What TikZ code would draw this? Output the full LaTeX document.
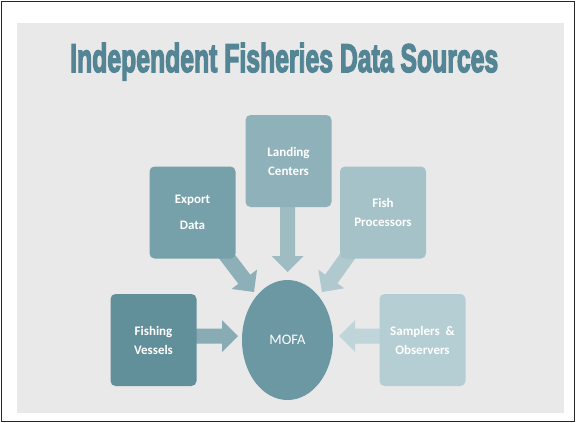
\documentclass[tikz,border=0pt]{standalone}
\usepackage{fontspec}
\setmainfont{Carlito}
\newfontfamily\titlefont[BoldFeatures={FakeBold=4}]{Liberation Sans}
\usetikzlibrary{calc}
\definecolor{panel}{HTML}{E9E9E9}
\definecolor{titlec}{HTML}{548594}
\definecolor{landc}{HTML}{8FB1B9}
\definecolor{expc}{HTML}{76A1AA}
\definecolor{procc}{HTML}{A5C2C8}
\definecolor{vesc}{HTML}{618F9A}
\definecolor{sampc}{HTML}{B5CED3}
\definecolor{mofac}{HTML}{6B98A3}
\definecolor{landa}{HTML}{A0BCC3}
\definecolor{expa}{HTML}{8DAFB7}
\definecolor{proca}{HTML}{B0C9CE}
\definecolor{vesa}{HTML}{88ABB4}
\definecolor{sampa}{HTML}{C0D5D9}
\newcommand\blockarrow[3]{%
  \coordinate (hb) at ($(#2)!16pt!(#1)$);
  \fill[#3] ($(#1)!7.5pt!90:(#2)$) -- ($(hb)!7.5pt!-90:(#1)$) -- ($(hb)!16pt!-90:(#1)$) -- (#2)
    -- ($(hb)!16pt!90:(#1)$) -- ($(hb)!7.5pt!90:(#1)$) -- ($(#1)!7.5pt!-90:(#2)$) -- cycle;}
\tikzset{
  srcbox/.style={rounded corners=5pt, minimum width=86pt, minimum height=92pt,
    inner sep=0pt, text=white, align=center, font=\bfseries\fontsize{13}{19}\selectfont},
}
\begin{document}
\begin{tikzpicture}[x=1pt,y=-1pt]
\useasboundingbox (0,0) rectangle (576,423);
\fill[white] (0,0) rectangle (576,423);
\draw[line width=1.2pt, black!85] (1.5,1.5) rectangle (574.5,421.5);
\fill[panel] (16.5,22.5) rectangle (563.5,413);
\node[anchor=base west, inner sep=0pt, text=titlec] (title) at (70,72)
  {\resizebox{428pt}{29pt}{\titlefont\bfseries Independent Fisheries Data Sources}};
% arrows (behind boxes)
\coordinate (la1) at (287.5,200); \coordinate (la2) at (287.5,272);
\coordinate (ea1) at (222,250);   \coordinate (ea2) at (254,292);
\coordinate (pa1) at (352,250);   \coordinate (pa2) at (322,292);
\coordinate (va1) at (190,336);   \coordinate (va2) at (238,336);
\coordinate (sa1) at (385,336);   \coordinate (sa2) at (339,336);
\blockarrow{la1}{la2}{landa}
\blockarrow{ea1}{ea2}{expa}
\blockarrow{pa1}{pa2}{proca}
\blockarrow{va1}{va2}{vesa}
\blockarrow{sa1}{sa2}{sampa}
% boxes
\node[srcbox, fill=landc] (land) at (288.5,161) {Landing\\Centers};
\node[srcbox, fill=expc, font=\bfseries\fontsize{13}{26}\selectfont] (exp) at (192.5,212.5) {Export\\Data};
\node[srcbox, fill=procc] (proc) at (383,212.5) {Fish\\Processors};
\node[srcbox, fill=vesc] (ves) at (153.5,340) {Fishing\\Vessels};
\node[srcbox, fill=sampc] (samp) at (422.5,340) {Samplers~~\&\\Observers};
\fill[mofac] (287.5,340) ellipse [x radius=45.5, y radius=60];
\node[text=white, font=\fontsize{14.5}{17}\selectfont] (mofa) at (287.5,340) {MOFA};
\end{tikzpicture}
\end{document}
